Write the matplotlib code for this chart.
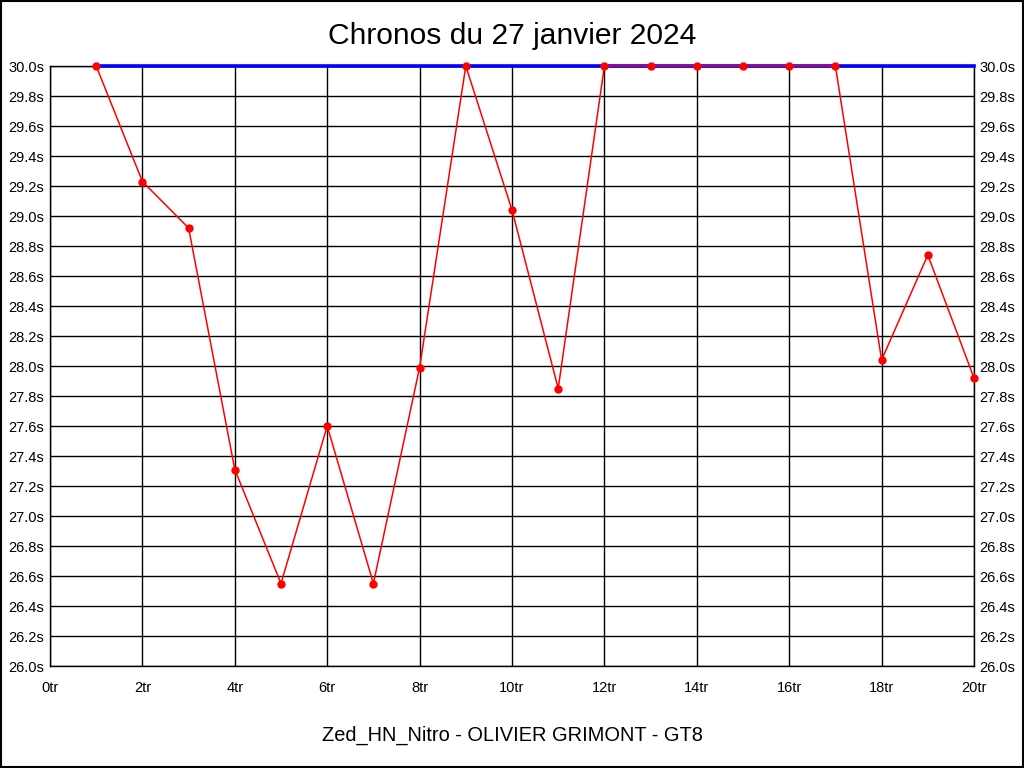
import numpy as np
import matplotlib
matplotlib.use('Agg')
import matplotlib.pyplot as plt

plt.rcParams['font.family'] = ['Liberation Sans', 'DejaVu Sans']

laps = [1, 2, 3, 4, 5, 6, 7, 8, 9, 10, 11, 12, 13, 14, 15, 16, 17, 18, 19, 20]
times = [30.0, 29.23, 28.92, 27.31, 26.55, 27.6, 26.55, 27.99, 30.0, 29.04,
         27.85, 30.0, 30.0, 30.0, 30.0, 30.0, 30.0, 28.04, 28.74, 27.92]
limit = [30.0] * len(laps)

title = 'Chronos du 27 janvier 2024'
subtitle = 'Zed_HN_Nitro - OLIVIER GRIMONT - GT8'

fig = plt.figure(figsize=(10.24, 7.68), dpi=100)
ax = fig.add_axes([50 / 1024, 1 - 666 / 768, 924 / 1024, 600 / 768])

ax.set_xlim(0, 20)
ax.set_ylim(26.0, 30.0)

xt = np.arange(0, 21, 2)
yt = np.round(np.arange(26.0, 30.01, 0.2), 1)
ax.set_xticks(xt)
ax.set_xticklabels([f'{v}tr' for v in xt])
ax.set_yticks(yt)
ax.set_yticklabels([f'{v:.1f}s' for v in yt])
ax.tick_params(length=0, labelsize=10.5, pad=4, right=True, labelright=True)
ax.tick_params(axis='x', pad=11)
ax.grid(True, color='black', linewidth=1)
ax.set_axisbelow(True)
for s in ax.spines.values():
    s.set_color('black')
    s.set_linewidth(1)

ax.plot(laps, limit, color='#0000ff', linewidth=2.6, zorder=3, clip_on=False)
ax.plot(laps, times, color='#ff0000', linewidth=1.1, marker='o', markersize=5, zorder=4,
        clip_on=False)

fig.text(0.5, 1 - 36 / 768, title, ha='center', va='center', fontsize=21.6)
fig.text(0.5, 1 - 735 / 768, subtitle, ha='center', va='center', fontsize=14.4)

# frame around the whole image
fig.patches.append(plt.Rectangle((0.0005, 0.0007), 0.999, 0.9986, transform=fig.transFigure,
                                 fill=False, edgecolor='black', linewidth=1.5))

fig.savefig('out.png', dpi=100)
